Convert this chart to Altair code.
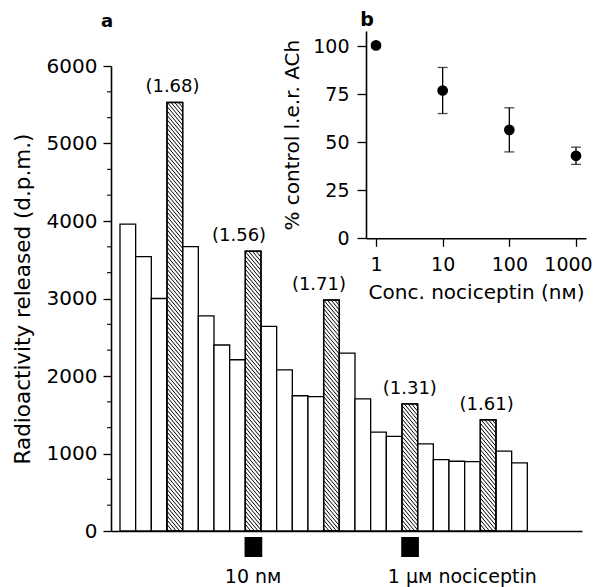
import altair as alt
import pandas as pd

# ---------------- Panel a data ----------------
release = [3960, 3540, 3000, 5530, 3670, 2775, 2400, 2210, 3610, 2640, 2080, 1745, 1735,
           2980, 2295, 1705, 1275, 1220, 1640, 1125, 920, 900, 895, 1435, 1030, 880]
stimulated = [4, 9, 14, 19, 24]            # hatched (stimulated) fractions, 1-based
ratio_labels = ["(1.68)", "(1.56)", "(1.71)", "(1.31)", "(1.61)"]
treat_bars = [9, 19]
treat_labels = ["10 n\u1d0d", "1 \u03bc\u1d0d nociceptin"]
y_major = [0, 1000, 2000, 3000, 4000, 5000, 6000]

# ---------------- Panel b data ----------------
conc = [1, 10, 100, 1000]
pct = [100.5, 77, 56.5, 43]
pct_lo = [100.5, 65, 45, 38.5]
pct_hi = [100.5, 89, 68, 47.5]

# ---------------- layout / style constants ----------------
FONT = "DejaVu Sans"
W, H = 471, 465
X_DOM = [-0.574, 29.49]
Y_DOM = [0, 6000]
label_shift = [-0.15, -0.9, -0.8, 0.0, -0.1]   # slot units, annotation placement

# ---------------- tables ----------------
bars = pd.DataFrame({
    "x0": [i for i in range(len(release))],
    "x1": [i + 1 for i in range(len(release))],
    "v": release,
    "hatched": [(i + 1) in stimulated for i in range(len(release))],
})

labels_df = pd.DataFrame({
    "xc": [b - 0.5 + s for b, s in zip(stimulated, label_shift)],
    "v": [release[b - 1] for b in stimulated],
    "label": ratio_labels,
})

# hatch segments derived from hatched bars
px_per_val = H / (Y_DOM[1] - Y_DOM[0])
slot_px = W / (X_DOM[1] - X_DOM[0])
step_px = 4.4
rise = 1.2
rows = []
for b in stimulated:
    top = release[b - 1]
    xl = b - 1
    D = rise * slot_px / px_per_val
    s = step_px / px_per_val
    c = s / 2
    while c < top + D:
        t0 = max(0.0, (c - top) / D)
        t1 = min(1.0, c / D)
        if t1 > t0:
            rows.append({"hx": xl + t0, "hx2": xl + t1, "hy": c - D * t0, "hy2": c - D * t1})
        c += s
hatch_df = pd.DataFrame(rows)

minor = [k * 1000 / 3 for k in range(19) if k % 3 != 0]
minor_df = pd.DataFrame({"m": minor})

treat_df = pd.DataFrame({
    "s0": [b - 1 - 0.05 for b in treat_bars],
    "s1": [b + 0.08 for b in treat_bars],
    "xc": [b - 0.5 for b in treat_bars],
    "label": treat_labels,
})

b_df = pd.DataFrame({"conc": conc, "pct": pct, "lo": pct_lo, "hi": pct_hi})

# ---------------- scales (fully explicit, so independent copies agree) ----------------
xs = alt.Scale(domain=X_DOM, range=[0, W], nice=False, zero=False)
ys = alt.Scale(domain=Y_DOM, range=[H, 0], nice=False, zero=False)
bxs = alt.Scale(type="log", domain=[0.708, 1413], range=[255, 475], nice=False)
bys = alt.Scale(domain=[0, 108], range=[172.3, -35], nice=False, zero=False)

bar_layer = alt.Chart(bars).mark_rect(fill="white", stroke="black", strokeWidth=1.3).encode(
    x=alt.X("x0:Q", scale=xs, axis=alt.Axis(orient="bottom", title=None, ticks=False, labels=False,
                                               grid=False, domainColor="black", domainWidth=1.6)),
    x2="x1:Q",
    y=alt.Y("v:Q", scale=ys, axis=alt.Axis(
        orient="left", values=y_major, format="d", title="Radioactivity released (d.p.m.)", grid=False,
        tickSize=8, tickColor="black", tickWidth=1.3, domainColor="black", domainWidth=1.6,
        labelFont=FONT, labelFontSize=20, labelColor="black", labelPadding=6,
        titleFont=FONT, titleFontSize=21.5, titleFontWeight="normal", titleColor="black",
        titlePadding=12)),
    y2=alt.datum(0),
)

hatch_layer = alt.Chart(hatch_df).mark_rule(color="black", strokeWidth=1).encode(
    x=alt.X("hx:Q", scale=xs, axis=None), x2="hx2:Q",
    y=alt.Y("hy:Q", scale=ys, axis=None), y2="hy2:Q",
)

outline_layer = alt.Chart(bars).transform_filter("datum.hatched").mark_rect(
    fillOpacity=0, stroke="black", strokeWidth=1.4).encode(
    x=alt.X("x0:Q", scale=xs, axis=None), x2="x1:Q",
    y=alt.Y("v:Q", scale=ys, axis=None), y2=alt.datum(0),
)

label_layer = alt.Chart(labels_df).mark_text(
    font=FONT, fontSize=18, color="black", baseline="alphabetic", dy=-10).encode(
    x=alt.X("xc:Q", scale=xs, axis=None),
    y=alt.Y("v:Q", scale=ys, axis=None),
    text="label:N",
)

minor_layer = alt.Chart(minor_df).mark_rule(color="black", strokeWidth=1.1).encode(
    y=alt.Y("m:Q", scale=ys, axis=None),
    x=alt.value(-4), x2=alt.value(0),
)

square_layer = alt.Chart(treat_df).mark_rect(color="black").encode(
    x=alt.X("s0:Q", scale=xs, axis=None), x2="s1:Q",
    y=alt.value(471), y2=alt.value(491),
)

t10 = alt.Chart(treat_df.iloc[[0]]).mark_text(
    font=FONT, fontSize=19, color="black", align="center", baseline="alphabetic").encode(
    x=alt.X("xc:Q", scale=xs, axis=None), y=alt.value(517), text="label:N")

t1 = alt.Chart(treat_df.iloc[[1]]).mark_text(
    font=FONT, fontSize=19, color="black", align="left", baseline="alphabetic", dx=-22).encode(
    x=alt.X("xc:Q", scale=xs, axis=None), y=alt.value(517), text="label:N")

letter_a = alt.Chart(pd.DataFrame({"t": ["a"]})).mark_text(
    font=FONT, fontSize=18, fontWeight="bold", color="black", baseline="alphabetic").encode(
    x=alt.value(-4), y=alt.value(-39.5), text="t:N")

# ---------------- panel b (inset) ----------------
b_err = alt.Chart(b_df).mark_rule(color="black", strokeWidth=1.3).encode(
    x=alt.X("conc:Q", scale=bxs, axis=alt.Axis(
        orient="bottom", offset=172.3 - H, values=conc, format="d",
        title="Conc. nociceptin (n\u1d0d)", grid=False,
        tickSize=8, tickColor="black", tickWidth=1.3, domainColor="black", domainWidth=1.6,
        labelFont=FONT, labelFontSize=19, labelColor="black", labelPadding=9,
        labelOffset={"condition": {"test": "datum.value >= 1000", "value": -8}, "value": 0},
        titleFont=FONT, titleFontSize=20, titleFontWeight="normal", titleColor="black",
        titlePadding=8)),
    y=alt.Y("lo:Q", scale=bys, axis=alt.Axis(
        orient="left", offset=-255, values=[0, 25, 50, 75, 100],
        title="% control l.e.r. ACh", grid=False,
        tickSize=9, tickColor="black", tickWidth=1.3, domainColor="black", domainWidth=1.6,
        labelFont=FONT, labelFontSize=19, labelColor="black", labelPadding=8,
        titleFont=FONT, titleFontSize=20, titleFontWeight="normal", titleColor="black",
        titlePadding=10)),
    y2="hi:Q",
)

b_cap_lo = alt.Chart(b_df).mark_tick(orient="horizontal", size=10, thickness=1.3, color="black").encode(
    x=alt.X("conc:Q", scale=bxs, axis=None), y=alt.Y("lo:Q", scale=bys, axis=None))
b_cap_hi = alt.Chart(b_df).mark_tick(orient="horizontal", size=10, thickness=1.3, color="black").encode(
    x=alt.X("conc:Q", scale=bxs, axis=None), y=alt.Y("hi:Q", scale=bys, axis=None))

b_pts = alt.Chart(b_df).mark_circle(size=115, color="black", opacity=1).encode(
    x=alt.X("conc:Q", scale=bxs, axis=None), y=alt.Y("pct:Q", scale=bys, axis=None))

letter_b = alt.Chart(pd.DataFrame({"t": ["b"]})).mark_text(
    font=FONT, fontSize=19, fontWeight="bold", color="black", baseline="alphabetic").encode(
    x=alt.value(256), y=alt.value(-40.3), text="t:N")

chart = alt.layer(
    bar_layer, hatch_layer, outline_layer, label_layer, minor_layer,
    square_layer, t10, t1, letter_a,
    b_err, b_cap_lo, b_cap_hi, b_pts, letter_b,
).resolve_scale(x="independent", y="independent").resolve_axis(
    x="independent", y="independent"
).properties(
    width=W, height=H,
    autosize=alt.AutoSizeParams(type="none"),
    padding={"left": 103, "top": 58, "right": 11, "bottom": 60},
    background="white",
).configure_view(stroke=None)

chart.save("out.html", embed_options={"renderer": "svg", "actions": False})
